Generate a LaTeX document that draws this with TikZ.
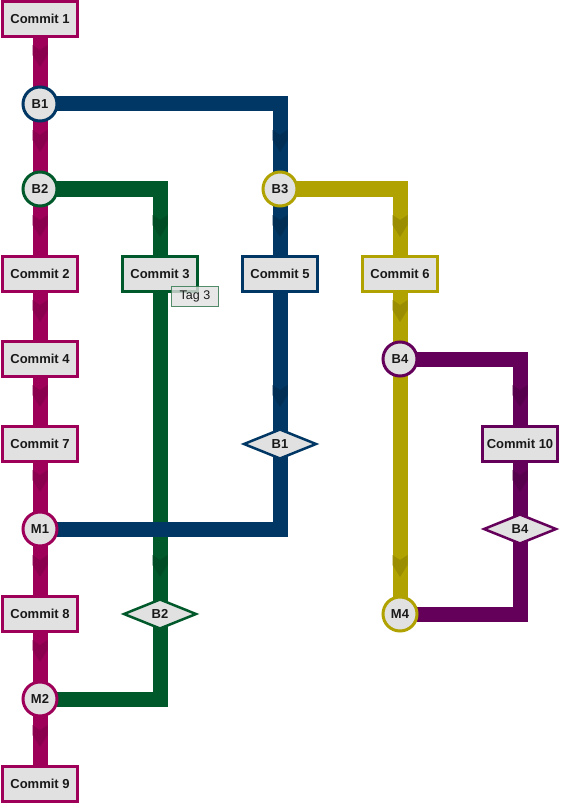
\documentclass[tikz,border=0pt]{standalone}
\usepackage{fontspec}
\setmainfont{Liberation Sans}
\usetikzlibrary{shapes.geometric,calc}
\definecolor{cmag}{HTML}{9E0059}
\definecolor{cmagd}{HTML}{8A004E}
\definecolor{cblue}{HTML}{003764}
\definecolor{cblued}{HTML}{002E55}
\definecolor{cgreen}{HTML}{00592A}
\definecolor{cgreend}{HTML}{004C24}
\definecolor{cyel}{HTML}{B0A200}
\definecolor{cyeld}{HTML}{9A8E00}
\definecolor{cpur}{HTML}{65005A}
\definecolor{cpurd}{HTML}{56004D}
\definecolor{nfill}{HTML}{E1E1E1}
\definecolor{tagline}{HTML}{3F8059}
\newcommand{\chevmark}[2]{\fill[#2] ($#1$) -- ++(-7.5,-12) -- ++(0,-10) -- ++(7.5,5) -- ++(7.5,-5) -- ++(0,10) -- cycle;}
\tikzset{
  branch/.style={line width=15pt, line join=miter, line cap=butt},
  lbl/.style={font=\fontsize{13}{15}\selectfont\bfseries, text=black!90},
  commitbox/.style={rectangle, draw=#1, fill=nfill, line width=3pt, minimum width=75pt, minimum height=35pt, inner sep=0pt, lbl},
  branchpt/.style={circle, draw=#1, fill=nfill, line width=3pt, minimum size=34pt, inner sep=0pt, lbl},
  endpt/.style={diamond, draw=#1, fill=nfill, line width=2.5pt, minimum width=73pt, minimum height=30pt, inner sep=0pt, lbl},
  tagbox/.style={rectangle, draw=tagline, fill=nfill, fill opacity=0.8, draw opacity=0.9, text opacity=1, line width=1.5pt, minimum width=47pt, minimum height=20pt, inner sep=0pt, font=\fontsize{12.5}{14}\selectfont, text=black!90},
}
\begin{document}
\begin{tikzpicture}[x=1pt,y=-1pt]
\useasboundingbox (0,0) rectangle (560,805);
\coordinate (C1) at (40,19);
\coordinate (B1) at (40,104);
\coordinate (B2) at (40,189);
\coordinate (C2) at (40,274);
\coordinate (C4) at (40,359);
\coordinate (C7) at (40,444);
\coordinate (M1) at (40,529);
\coordinate (C8) at (40,614);
\coordinate (M2) at (40,699);
\coordinate (C9) at (40,784);
\coordinate (C3) at (160,274);
\coordinate (DB2) at (160,614);
\coordinate (B3) at (280,189);
\coordinate (C5) at (280,274);
\coordinate (DB1) at (280,444);
\coordinate (C6) at (400,274);
\coordinate (B4) at (400,359);
\coordinate (M4) at (400,614);
\coordinate (C10) at (520,444);
\coordinate (DB4) at (520,529);
% main branch
\draw[branch, cmag] (C1) -- (C9);
% green branch
\draw[branch, cgreen] (B2) -| (C3) -- (DB2) |- (M2);
% yellow branch
\draw[branch, cyel] (B3) -| (C6) -- (M4);
% purple branch
\draw[branch, cpur] (B4) -| (C10) -- (DB4) |- (M4);
% blue branch
\draw[branch, cblue] (B1) -| (B3) -- (DB1) |- (M1);
% chevrons
\chevmark{(B1)+(0,-37)}{cmagd}
\chevmark{(B2)+(0,-37)}{cmagd}
\chevmark{(C2)+(0,-37)}{cmagd}
\chevmark{(C4)+(0,-37)}{cmagd}
\chevmark{(C7)+(0,-37)}{cmagd}
\chevmark{(M1)+(0,-37)}{cmagd}
\chevmark{(C8)+(0,-37)}{cmagd}
\chevmark{(M2)+(0,-37)}{cmagd}
\chevmark{(C9)+(0,-37)}{cmagd}
\chevmark{(B3)+(0,-37)}{cblued}
\chevmark{(C5)+(0,-37)}{cblued}
\chevmark{(DB1)+(0,-37)}{cblued}
\chevmark{(C3)+(0,-37)}{cgreend}
\chevmark{(DB2)+(0,-37)}{cgreend}
\chevmark{(C6)+(0,-37)}{cyeld}
\chevmark{(B4)+(0,-37)}{cyeld}
\chevmark{(M4)+(0,-37)}{cyeld}
\chevmark{(C10)+(0,-37)}{cpurd}
\chevmark{(DB4)+(0,-37)}{cpurd}
% nodes
\node[commitbox=cmag] (n1) at (C1) {Commit 1};
\node[branchpt=cblue] (nB1) at (B1) {B1};
\node[branchpt=cgreen] (nB2) at (B2) {B2};
\node[commitbox=cmag] (n2) at (C2) {Commit 2};
\node[commitbox=cmag] (n4) at (C4) {Commit 4};
\node[commitbox=cmag] (n7) at (C7) {Commit 7};
\node[branchpt=cmag] (nM1) at (M1) {M1};
\node[commitbox=cmag] (n8) at (C8) {Commit 8};
\node[branchpt=cmag] (nM2) at (M2) {M2};
\node[commitbox=cmag] (n9) at (C9) {Commit 9};
\node[commitbox=cgreen] (n3) at (C3) {Commit 3};
\node[endpt=cgreen] (nDB2) at (DB2) {B2};
\node[branchpt=cyel] (nB3) at (B3) {B3};
\node[commitbox=cblue] (n5) at (C5) {Commit 5};
\node[endpt=cblue] (nDB1) at (DB1) {B1};
\node[commitbox=cyel] (n6) at (C6) {Commit 6};
\node[branchpt=cpur] (nB4) at (B4) {B4};
\node[branchpt=cyel] (nM4) at (M4) {M4};
\node[commitbox=cpur] (n10) at (C10) {Commit 10};
\node[endpt=cpur] (nDB4) at (DB4) {B4};
\node[tagbox] (tag3) at (195,296.5) {Tag 3};
\end{tikzpicture}
\end{document}
